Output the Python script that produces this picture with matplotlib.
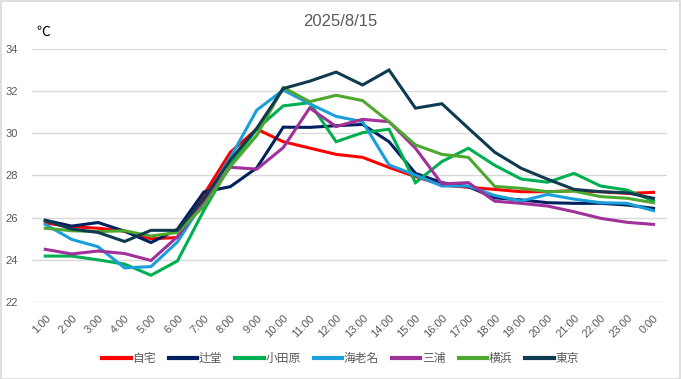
import matplotlib
matplotlib.use("Agg")
import matplotlib.pyplot as plt
from matplotlib.patches import Rectangle

hours = ["1:00", "2:00", "3:00", "4:00", "5:00", "6:00", "7:00", "8:00", "9:00", "10:00",
         "11:00", "12:00", "13:00", "14:00", "15:00", "16:00", "17:00", "18:00", "19:00",
         "20:00", "21:00", "22:00", "23:00", "0:00"]

jitaku = [25.75, 25.57, 25.5, 25.36, 25.0, 25.06, 27.1, 29.1, 30.2, 29.6, 29.3, 29.0,
          28.86, 28.38, 27.95, 27.55, 27.44, 27.34, 27.23, 27.23, 27.28, 27.23, 27.15, 27.2]
tsujido = [25.88, 25.6, 25.77, 25.36, 24.82, 25.45, 27.22, 27.47, 28.36, 30.29, 30.28, 30.36,
           30.42, 29.6, 28.1, 27.66, 27.47, 26.94, 26.84, 26.71, 26.68, 26.68, 26.6, 26.44]
odawara = [24.18, 24.18, 24.0, 23.8, 23.27, 23.95, 26.35, 28.5, 30.2, 31.3, 31.45, 29.6,
           30.03, 30.19, 27.66, 28.66, 29.29, 28.48, 27.83, 27.68, 28.1, 27.5, 27.31, 26.79]
ebina = [25.68, 24.97, 24.62, 23.62, 23.68, 24.85, 26.8, 28.85, 31.1, 32.05, 31.4, 30.8,
         30.55, 28.5, 28.02, 27.5, 27.5, 27.05, 26.79, 27.1, 26.88, 26.71, 26.68, 26.33]
miura = [24.5, 24.28, 24.42, 24.3, 23.97, 25.1, 26.8, 28.39, 28.3, 29.32, 31.2, 30.32,
         30.66, 30.55, 29.29, 27.6, 27.66, 26.78, 26.68, 26.55, 26.28, 25.97, 25.78, 25.68]
yokohama = [25.5, 25.38, 25.34, 25.38, 25.13, 25.3, 26.55, 28.42, 29.9, 32.17, 31.5, 31.8,
            31.55, 30.55, 29.45, 29.0, 28.86, 27.48, 27.39, 27.23, 27.26, 27.0, 26.92, 26.71]
tokyo = [25.87, 25.46, 25.3, 24.87, 25.4, 25.4, 26.9, 28.73, 30.24, 32.12, 32.47, 32.9,
         32.29, 33.0, 31.19, 31.4, 30.24, 29.1, 28.34, 27.82, 27.34, 27.23, 27.18, 26.92]

series_names = ["自宅", "辻堂", "小田原", "海老名", "三浦", "横浜", "東京"]
series_values = [jitaku, tsujido, odawara, ebina, miura, yokohama, tokyo]
colors = ["#FF0000", "#002060", "#00B050", "#1A9FDB", "#A0309A", "#4EA72E", "#0F3B50"]

title = "2025/8/15"
y_ticks = [22, 24, 26, 28, 30, 32, 34]

plt.rcParams['font.family'] = ['Liberation Sans', 'Noto Sans CJK JP', 'DejaVu Sans']

fig = plt.figure(figsize=(6.81, 3.79), dpi=100)
ax = fig.add_axes([0.047, 0.203, 0.932, 0.668])

x = list(range(len(hours)))
for name, vals, c in zip(series_names, series_values, colors):
    ax.plot(x, vals, color=c, lw=2.2, label=name, solid_joinstyle='miter')

ax.set_xlim(-0.5, len(hours) - 0.5)
ax.set_ylim(22, 34)
ax.set_yticks(y_ticks)
ax.set_yticklabels([str(v) for v in y_ticks], color="#595959", fontsize=8)
ax.set_xticks(x)
ax.set_xticklabels(hours, rotation=45, ha='right', rotation_mode='anchor',
                   color="#595959", fontsize=8)
ax.tick_params(axis='both', length=0)
ax.tick_params(axis='y', pad=10)
ax.tick_params(axis='x', pad=8)
ax.grid(axis='y', color="#D9D9D9", lw=1)
ax.set_axisbelow(True)
for s in ax.spines.values():
    s.set_visible(False)

fig.text(0.5, 0.942, title, ha='center', va='center', fontsize=12, color="#595959")
fig.text(0.053, 0.915, "℃", ha='left', va='center', fontsize=10, color="#000000",
         family=['Noto Sans CJK JP', 'DejaVu Sans'])

leg = fig.legend(loc='center', bbox_to_anchor=(0.5, 0.055), ncol=7, frameon=False,
                 handlelength=2.4, handletextpad=0.15, columnspacing=1.1,
                 prop={'family': ['Noto Sans CJK JP', 'DejaVu Sans'], 'size': 8.5})
for t in leg.get_texts():
    t.set_color("#595959")
for h in leg.get_lines():
    h.set_linewidth(3)

fig.patches.append(Rectangle((0.001, 0.001), 0.997, 0.997, transform=fig.transFigure,
                             fill=False, edgecolor="#D9D9D9", lw=1.2))

fig.savefig("out.png", dpi=100)
